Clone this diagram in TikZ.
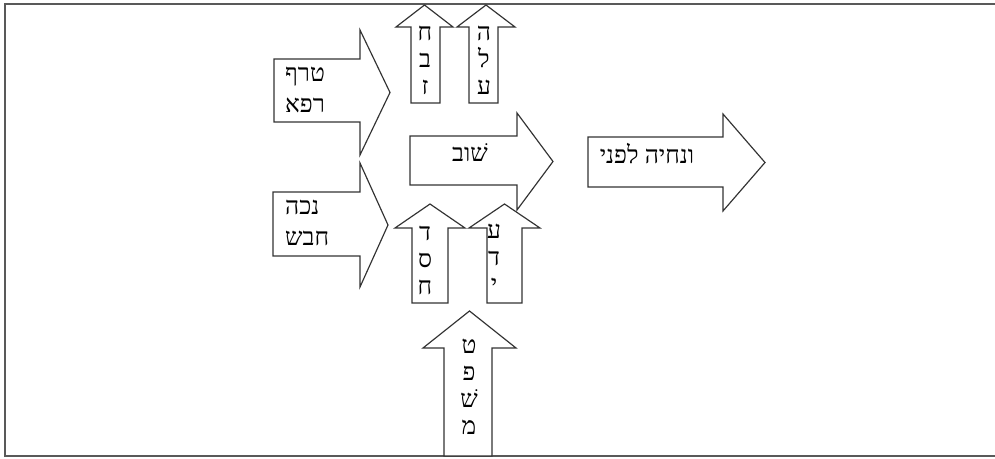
\documentclass[tikz,border=0pt]{standalone}
\usepackage{fontspec}
\TeXXeTstate=1
\newfontfamily\hebfont[Script=Hebrew]{Liberation Serif}
\newcommand{\heb}[1]{\beginR #1\endR}
\tikzset{
        arrbox/.style = {draw=black!80, line width=1pt, fill=white,
            line join=miter},
        wordnode/.style = {inner sep=0pt, align=left,
            font=\hebfont\fontsize{21}{26}\selectfont},
        stacknode/.style = {inner sep=0pt, align=center,
            font=\hebfont\fontsize{21}{23}\selectfont},
        framebox/.style = {draw=black!65, line width=1.6pt}
    }
% arrow to the right: tail x, body top, body bottom, head x, head top, head bottom, tip x
\newcommand{\rarr}[7]{\draw[arrbox] (#1,#2) -- (#4,#2) -- (#4,#5) -- (#7,{(#5+#6)/2})
    -- (#4,#6) -- (#4,#3) -- (#1,#3) -- cycle;}
% arrow upwards: body left, body right, bottom, head y, wing left, wing right, tip y
\newcommand{\uarr}[7]{\draw[arrbox] (#1,#3) -- (#1,#4) -- (#5,#4) -- ({(#5+#6)/2},#7)
    -- (#6,#4) -- (#2,#4) -- (#2,#3) -- cycle;}

\begin{document}
\begin{tikzpicture}[x=0.03cm, y=-0.03cm]
            \useasboundingbox (0,0) rectangle (995,459);
            \draw[framebox] (995,4) -- (5,4) -- (5,456) -- (995,456);
            % left arrows
            \rarr{274}{59}{122}{360}{30}{155}{390}
            \rarr{273}{192}{256}{360}{163}{287}{388}
            % top arrows
            \uarr{411}{440}{103}{27}{396}{453}{5}
            \uarr{469}{498}{103}{27}{457}{515}{5}
            % middle
            \rarr{410}{136}{185}{517}{113}{210}{553}
            \uarr{412}{448}{303}{228}{395}{465}{204}
            \uarr{487}{522}{303}{228}{469}{540}{204}
            % bottom
            \uarr{444}{492}{456}{348}{423}{516}{311}
            % right
            \rarr{588}{137}{187}{723}{114}{211}{765}
            \node[wordnode, anchor=west] (trf) at (285,90) {\heb{טרף}\\\heb{רפא}};
            \node[wordnode, anchor=west] (nkh) at (285,223) {\heb{נכה}\\\heb{חבש}};
            \node[stacknode] (zvh) at (425,60) {ח\\ב\\ז};
            \node[stacknode] (ale) at (484,60) {ה\\ל\\ע};
            \node[wordnode] (shuv) at (470,153) {\heb{שׁוב}};
            \node[stacknode] (hsd) at (425,260) {ד\\ס\\ח};
            \node[stacknode] (yda) at (494,258) {ע\\ד\\י};
            \node[stacknode] (mshpt) at (469,387) {ט\\פ\\שׁ\\מ};
            \node[wordnode] (nhye) at (647,154) {\heb{ונחיה לפני}};
\end{tikzpicture}
\end{document}
